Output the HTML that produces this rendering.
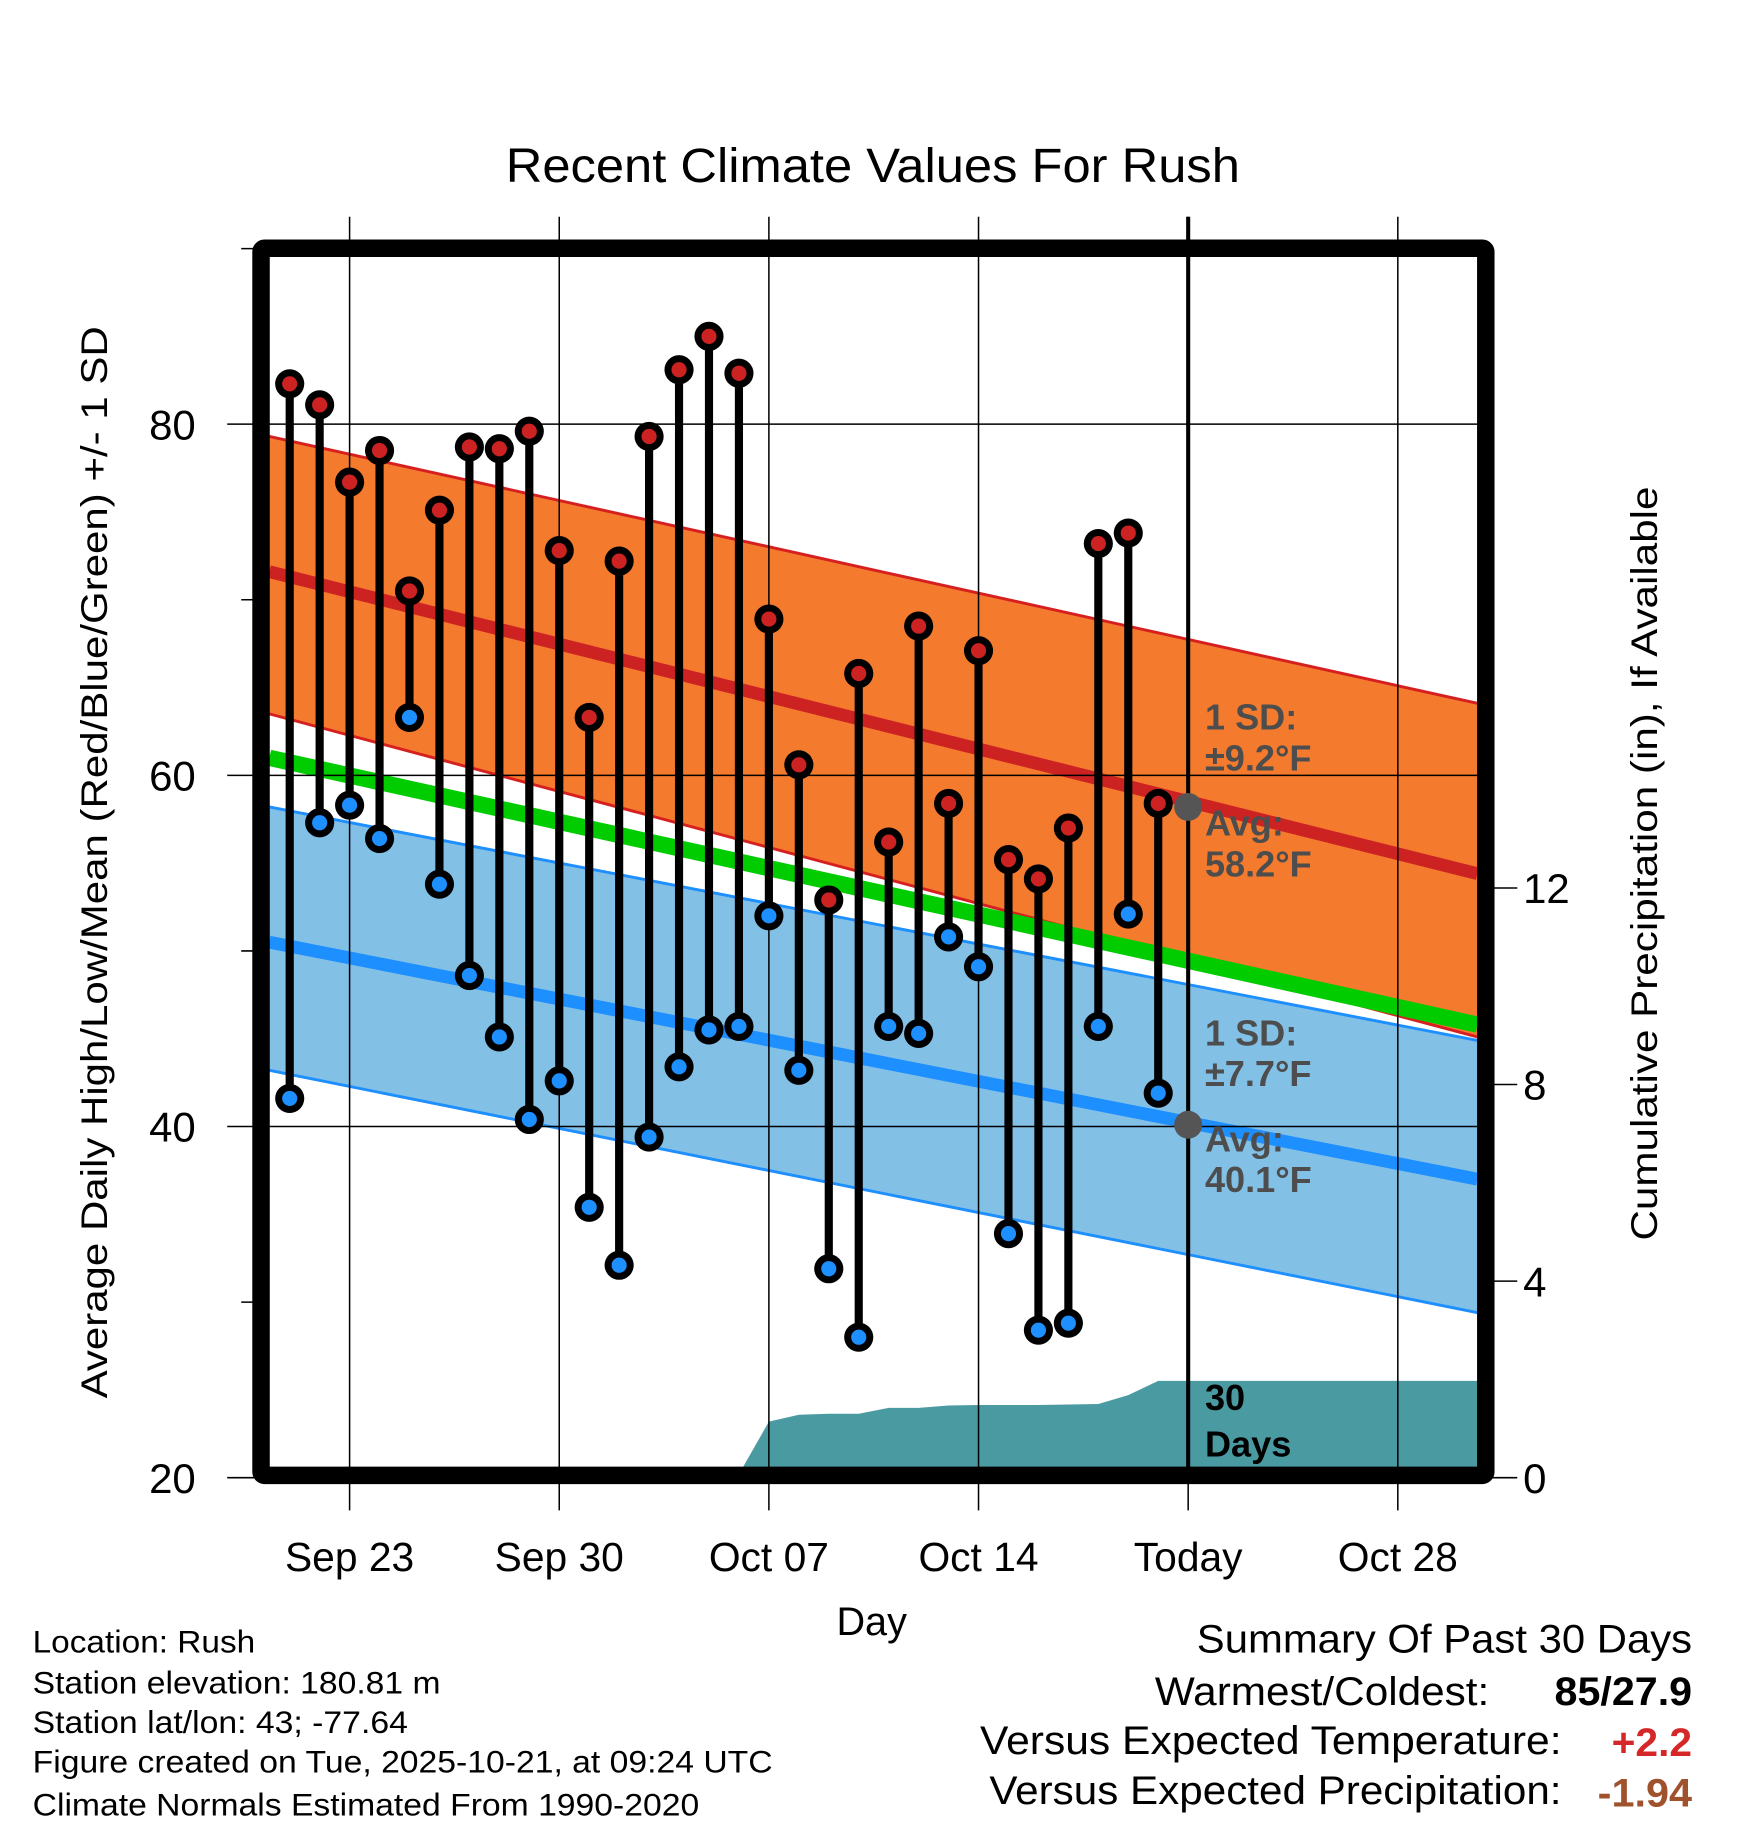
<!DOCTYPE html>
<html><head><meta charset="utf-8"><style>
html,body{margin:0;padding:0;background:#fff;}
svg{display:block;font-family:"Liberation Sans",Arial,sans-serif;}
</style></head><body>
<svg id="chart" width="1748" height="1828" viewBox="0 0 1500 1568.6" preserveAspectRatio="none" xmlns="http://www.w3.org/2000/svg">
<text x="749" y="156" font-size="41" text-anchor="middle" textLength="630" lengthAdjust="spacingAndGlyphs">Recent Climate Values For Rush</text>
<g id="plot"></g>
<text x="748" y="1403" font-size="34" text-anchor="middle">Day</text>
<text transform="translate(92,740) rotate(-90)" font-size="32" text-anchor="middle" textLength="920" lengthAdjust="spacingAndGlyphs">Average Daily High/Low/Mean (Red/Blue/Green) +/- 1 SD</text>
<text transform="translate(1422,741) rotate(-90)" font-size="32" text-anchor="middle" textLength="647" lengthAdjust="spacingAndGlyphs">Cumulative Precipitation (in), If Available</text>
<g font-size="27">
<text x="28" y="1418" textLength="191" lengthAdjust="spacingAndGlyphs">Location: Rush</text>
<text x="28" y="1453" textLength="350" lengthAdjust="spacingAndGlyphs">Station elevation: 180.81 m</text>
<text x="28" y="1487" textLength="322" lengthAdjust="spacingAndGlyphs">Station lat/lon: 43; -77.64</text>
<text x="28" y="1521" textLength="635" lengthAdjust="spacingAndGlyphs">Figure created on Tue, 2025-10-21, at 09:24 UTC</text>
<text x="28" y="1558" textLength="572" lengthAdjust="spacingAndGlyphs">Climate Normals Estimated From 1990-2020</text>
</g>
<g font-size="34">
<text x="1027" y="1418" textLength="425" lengthAdjust="spacingAndGlyphs">Summary Of Past 30 Days</text>
<text x="991" y="1463" textLength="287" lengthAdjust="spacingAndGlyphs">Warmest/Coldest:</text>
<text x="1334" y="1463" font-weight="bold" textLength="118" lengthAdjust="spacingAndGlyphs">85/27.9</text>
<text x="841" y="1505" textLength="499" lengthAdjust="spacingAndGlyphs">Versus Expected Temperature:</text>
<text x="1383" y="1507" font-weight="bold" fill="#d62728" textLength="69" lengthAdjust="spacingAndGlyphs">+2.2</text>
<text x="849" y="1548" textLength="491" lengthAdjust="spacingAndGlyphs">Versus Expected Precipitation:</text>
<text x="1371" y="1550" font-weight="bold" fill="#a0522d" textLength="81" lengthAdjust="spacingAndGlyphs">-1.94</text>
</g>
</svg>
<script>
// ---- data ----
const days = ["Sep 21","Sep 22","Sep 23","Sep 24","Sep 25","Sep 26","Sep 27","Sep 28","Sep 29","Sep 30","Oct 01","Oct 02","Oct 03","Oct 04","Oct 05","Oct 06","Oct 07","Oct 08","Oct 09","Oct 10","Oct 11","Oct 12","Oct 13","Oct 14","Oct 15","Oct 16","Oct 17","Oct 18","Oct 19","Oct 20"];
const highs = [82.3,81.1,76.7,78.5,70.5,75.1,78.7,78.6,79.6,72.8,63.3,72.2,79.3,83.1,85.0,82.9,68.9,60.6,52.9,65.8,56.2,68.5,58.4,67.1,55.2,54.1,57.0,73.2,73.8,58.4];
const lows = [41.6,57.3,58.3,56.4,63.3,53.8,48.6,45.1,40.4,42.6,35.4,32.1,39.4,43.4,45.5,45.7,52.0,43.2,31.9,28.0,45.7,45.3,50.8,49.1,33.9,28.4,28.8,45.7,52.1,41.9];
const precip = [0,0,0,0,0,0,0,0,0,0.02,0.04,0.05,0.06,0.07,0.07,0.07,1.14,1.28,1.3,1.3,1.42,1.42,1.47,1.48,1.48,1.48,1.49,1.5,1.68,1.97];
const normDays = [-0.68, 39.66];   // day offsets from Sep 21 at plot edges
const normHigh = [71.6, 54.4];
const normHighUpper = [79.3, 64.1];
const normHighLower = [63.5, 45.1];
const normLow = [50.5, 37.0];
const normLowUpper = [58.2, 44.9];
const normLowLower = [43.2, 29.4];
const normMean = [61.0, 45.8];
const todayIdx = 30;
const todayHigh = 58.2;
const todayLow = 40.1;
const xTickDays = [2, 9, 16, 23, 30, 37];
const xTickLabels = ["Sep 23","Sep 30","Oct 07","Oct 14","Today","Oct 28"];
const yTicks = [20,40,60,80];
const yMinor = [30,50,70,90];
const y2Ticks = [0,4,8,12];

// ---- scales ----
const X0=248.6, DX=25.7;
const xs = d => X0 + d*DX;
const ys = v => 1268 - (v-20)*15.067;
const yp = p => 1268 - p*42.17;
const L=231, R=1268;
const NS="http://www.w3.org/2000/svg";
const plot=document.getElementById('plot');
function mk(tag, attrs, parent){const e=document.createElementNS(NS,tag);for(const k in attrs)e.setAttribute(k,attrs[k]);(parent||plot).appendChild(e);return e;}

function band(up, lo, fill, edge, name){
  const d0=normDays[0], d1=normDays[1];
  const p = `M${xs(d0)},${ys(up[0])} L${xs(d1)},${ys(up[1])} L${xs(d1)},${ys(lo[1])} L${xs(d0)},${ys(lo[0])} Z`;
  const e=mk('path',{d:p,fill:fill,stroke:'none'});
  
  
  [up,lo].forEach(a=>{
    const l=mk('line',{x1:xs(d0),y1:ys(a[0]),x2:xs(d1),y2:ys(a[1]),stroke:edge,'stroke-width':2.5});
    
    
  });
}
band(normHighUpper, normHighLower, '#f47a2e', '#d62020', 'high');
band(normLowUpper, normLowLower, '#82c0e6', '#1e8fff', 'low');
function nline(arr,color,w,name){
  const l=mk('line',{x1:xs(normDays[0]),y1:ys(arr[0]),x2:xs(normDays[1]),y2:ys(arr[1]),stroke:color,'stroke-width':w});
  
  
}
nline(normHigh,'#cc2222',11,'avg-high-line');
nline(normLow,'#1e8fff',11,'avg-low-line');
nline(normMean,'#00cc00',14,'avg-mean-line');

// precip area
{
  let d=`M${L},${yp(0)}`;
  precip.forEach((p,i)=>{d+=` L${xs(i)},${yp(p)}`;});
  d+=` L${R},${yp(precip[precip.length-1])} L${R},${yp(0)} Z`;
  const a=mk('path',{d:d,fill:'#4a9aa2'});
  
  
}

// grid
xTickDays.forEach((d,i)=>{
  const g=mk('line',{x1:xs(d),y1:186,x2:xs(d),y2:1296,stroke:'#000','stroke-width':1.3});
  
  
  const t=mk('text',{x:xs(d),y:1348,'font-size':35,'text-anchor':'middle'});
  t.textContent=xTickLabels[i];
  
  
});
yTicks.forEach(v=>{
  const g=mk('line',{x1:195,y1:ys(v),x2:v===20?231:R,y2:ys(v),stroke:'#000','stroke-width':1.3});
  
  
  const t=mk('text',{x:168,y:ys(v)+13,'font-size':36,'text-anchor':'end'});
  t.textContent=v;
  
  
});
yMinor.forEach(v=>{
  const g=mk('line',{x1:207,y1:ys(v),x2:224,y2:ys(v),stroke:'#000','stroke-width':1.3});
  
  
});
y2Ticks.forEach(p=>{
  const g=mk('line',{x1:1275,y1:yp(p),x2:1302,y2:yp(p),stroke:'#000','stroke-width':1.3});
  
  
  const t=mk('text',{x:1307,y:yp(p)+13,'font-size':36});
  t.textContent=p;
  
  
});

// today line
{
  const l=mk('line',{x1:xs(todayIdx),y1:186,x2:xs(todayIdx),y2:1262,stroke:'#000','stroke-width':3.5});
  
  
}

// stems and points
days.forEach((dname,i)=>{
  const x=xs(i);
  const s=mk('line',{x1:x,y1:ys(highs[i]),x2:x,y2:ys(lows[i]),stroke:'#000','stroke-width':7});
  
  
  [[highs[i],'#cc2222','high-point'],[lows[i],'#1e8fff','low-point']].forEach(([v,c,n])=>{
    const o=mk('circle',{cx:x,cy:ys(v),r:12.5,fill:'#000'});
    
    
    mk('circle',{cx:x,cy:ys(v),r:6.5,fill:c});
  });
});

// today avg markers
[todayHigh,todayLow].forEach(v=>{
  const c=mk('circle',{cx:xs(todayIdx),cy:ys(v),r:12,fill:'#555'});
  
  
});

// annotations
function ann(txt,y,color,name){
  const t=mk('text',{x:1034,y:y,'font-size':31,'font-weight':'bold',fill:color});
  t.textContent=txt;
  
  
}
ann('1 SD:',626,'#4d4d4d','high-sd-label');
ann('\u00B19.2\u00B0F',661,'#4d4d4d','high-sd-value');
ann('Avg:',717,'#4d4d4d','high-avg-label');
ann(todayHigh.toFixed(1)+'\u00B0F',752,'#4d4d4d','high-avg-value');
ann('1 SD:',897,'#4d4d4d','low-sd-label');
ann('\u00B17.7\u00B0F',932,'#4d4d4d','low-sd-value');
ann('Avg:',988,'#4d4d4d','low-avg-label');
ann(todayLow.toFixed(1)+'\u00B0F',1023,'#4d4d4d','low-avg-value');
ann('30',1210,'#000','days-count');
ann('Days',1250,'#000','days-label');

// frame
{
  const f=mk('rect',{x:224,y:213,width:1051,height:1053,fill:'none',stroke:'#000','stroke-width':15,rx:3});
  
  
}
</script>
</body></html>
